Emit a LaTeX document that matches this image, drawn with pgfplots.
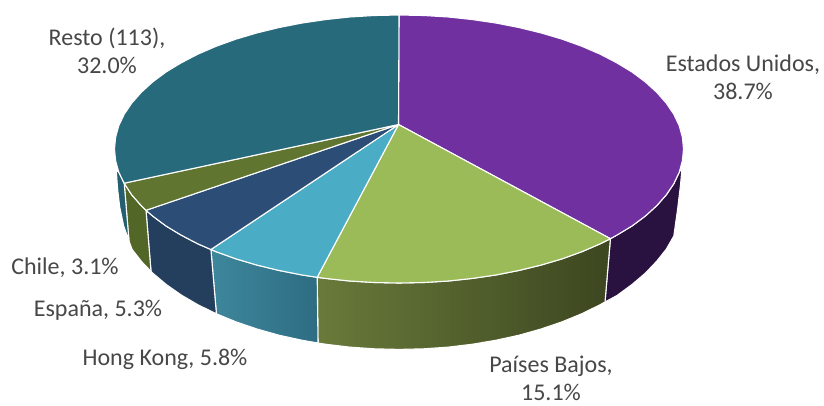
\documentclass[border=0pt]{standalone}
\usepackage{pgfplots}
\pgfplotsset{compat=1.18}
\usepackage{fontspec}
\setmainfont{Carlito}
\definecolor{usTop}{HTML}{7030A0}
\definecolor{usWall}{HTML}{2A1240}
\definecolor{pbTop}{HTML}{9BBB59}
\definecolor{hkTop}{HTML}{4BACC6}
\definecolor{esTop}{HTML}{2C4D75}
\definecolor{esWall}{HTML}{243E5E}
\definecolor{clTop}{HTML}{5F7530}
\definecolor{clWall}{HTML}{526628}
\definecolor{reTop}{HTML}{276A7C}
\definecolor{reWall}{HTML}{235F70}
\definecolor{lbl}{HTML}{474747}
\definecolor{pbA}{RGB}{105,122,58}
\definecolor{pbB}{RGB}{74,88,42}
\definecolor{pbC}{RGB}{60,70,32}
\definecolor{hkA}{RGB}{62,135,156}
\definecolor{hkB}{RGB}{46,108,130}
\tikzset{lab/.style={font=\fontsize{24}{28}\selectfont, text=lbl, align=center, inner sep=0pt}}
\begin{document}
\begin{tikzpicture}
\begin{axis}[
    scale only axis,
    width=824pt, height=405pt,
    xmin=0, xmax=824, ymin=0, ymax=405,
    y dir=reverse,
    hide axis,
    clip=false,
    every axis plot/.append style={mark=none, draw=white, line width=1.1pt, line join=round},
]
% keeps the page at the full frame
\path[use as bounding box] (axis cs:0,0) rectangle (axis cs:824,405);
% side walls
\addplot[fill=usWall] coordinates {(610.4,238.7)(616.9,235.1)(632.1,225.9)(645.4,216)(656.8,205.6)(666.3,194.8)(673.8,183.7)(679.2,172.3)(682,168)(680.5,185)(677.5,210)(673.8,236)(666.4,249)(656.9,261)(645.5,273)(632,284.5)(617,295.5)(605,302)} -- cycle;
\addplot[shade, left color=pbA, middle color=pbB, right color=pbC, draw=white] coordinates {(610.4,238.7)(600.2,243.8)(581.9,251.7)(562.2,258.8)(541.3,265)(519.2,270.4)(496.3,274.9)(472.6,278.4)(448.4,281)(423.8,282.5)(399,283)(374.2,282.5)(349.6,281)(325.4,278.4)(317.2,277.3)(318,343)(325.5,344.2)(349.7,347.1)(374.2,348.8)(399,349.4)(423.8,348.8)(448.3,347.1)(472.5,344.2)(496.1,340.2)(519,335.2)(541,329)(561.9,321.9)(581.6,313.8)(599.8,304.9)(605,302)} -- cycle;
\addplot[shade, left color=hkA, right color=hkB, draw=white] coordinates {(317.2,277.3)(301.7,274.9)(278.8,270.4)(256.7,265)(235.8,258.8)(216.1,251.7)(210.9,249.5)(216.4,313.8)(236.1,321.9)(257,329)(279,335.2)(301.9,340.2)(318,343)} -- cycle;
\addplot[fill=esWall] coordinates {(210.9,249.5)(197.8,243.8)(181.1,235.1)(165.9,225.9)(152.6,216)(146,210.3)(151,271.4)(153,273.4)(166.4,284.6)(181.4,295.1)(198.2,304.9)(216.4,313.8)} -- cycle;
\addplot[fill=clWall] coordinates {(146,210.3)(141.2,205.6)(131.7,194.8)(124.2,183.2)(129,241)(132.1,249.4)(141.6,261.6)(151,271.4)} -- cycle;
\addplot[fill=reWall] coordinates {(124.2,183.2)(118.8,172.3)(116.2,170)(117.7,190)(119.7,207)(123.7,226)(129,241)} -- cycle;
% top faces
\addplot[fill=usTop] coordinates {(398.5,124.5)(399,15)(423.8,15.5)(448.4,17)(472.6,19.6)(496.3,23.1)(519.2,27.6)(541.3,33)(562.2,39.2)(581.9,46.3)(600.2,54.2)(616.9,62.9)(632.1,72.1)(645.4,82)(656.8,92.4)(666.3,103.2)(673.8,114.3)(679.2,125.7)(682.4,137.3)(683.5,149)(682.4,160.7)(679.2,172.3)(673.8,183.7)(666.3,194.8)(656.8,205.6)(645.4,216)(632.1,225.9)(616.9,235.1)(610.4,238.7)} -- cycle;
\addplot[fill=pbTop] coordinates {(398.5,124.5)(610.4,238.7)(600.2,243.8)(581.9,251.7)(562.2,258.8)(541.3,265)(519.2,270.4)(496.3,274.9)(472.6,278.4)(448.4,281)(423.8,282.5)(399,283)(374.2,282.5)(349.6,281)(325.4,278.4)(317.2,277.3)} -- cycle;
\addplot[fill=hkTop] coordinates {(398.5,124.5)(317.2,277.3)(301.7,274.9)(278.8,270.4)(256.7,265)(235.8,258.8)(216.1,251.7)(210.9,249.5)} -- cycle;
\addplot[fill=esTop] coordinates {(398.5,124.5)(210.9,249.5)(197.8,243.8)(181.1,235.1)(165.9,225.9)(152.6,216)(146,210.3)} -- cycle;
\addplot[fill=clTop] coordinates {(398.5,124.5)(146,210.3)(141.2,205.6)(131.7,194.8)(124.2,183.2)} -- cycle;
\addplot[fill=reTop] coordinates {(398.5,124.5)(124.2,183.2)(118.8,172.3)(115.6,160.7)(114.5,149)(115.6,137.3)(118.8,125.7)(124.2,114.3)(131.7,103.2)(141.2,92.4)(152.6,82)(165.9,72.1)(181.1,62.9)(197.8,54.2)(216.1,46.3)(235.8,39.2)(256.7,33)(278.8,27.6)(301.7,23.1)(325.4,19.6)(349.6,17)(374.2,15.5)(399,15)} -- cycle;
% labels
\node[lab] at (axis cs:743,77) {Estados Unidos,\\38.7\%};
\node[lab] at (axis cs:551,378) {Países Bajos,\\15.1\%};
\node[lab] at (axis cs:165,359) {Hong Kong, 5.8\%};
\node[lab] at (axis cs:98,310) {España, 5.3\%};
\node[lab] at (axis cs:65,268) {Chile, 3.1\%};
\node[lab] at (axis cs:107,50.5) {Resto (113),\\32.0\%};
\end{axis}
\end{tikzpicture}
\end{document}
